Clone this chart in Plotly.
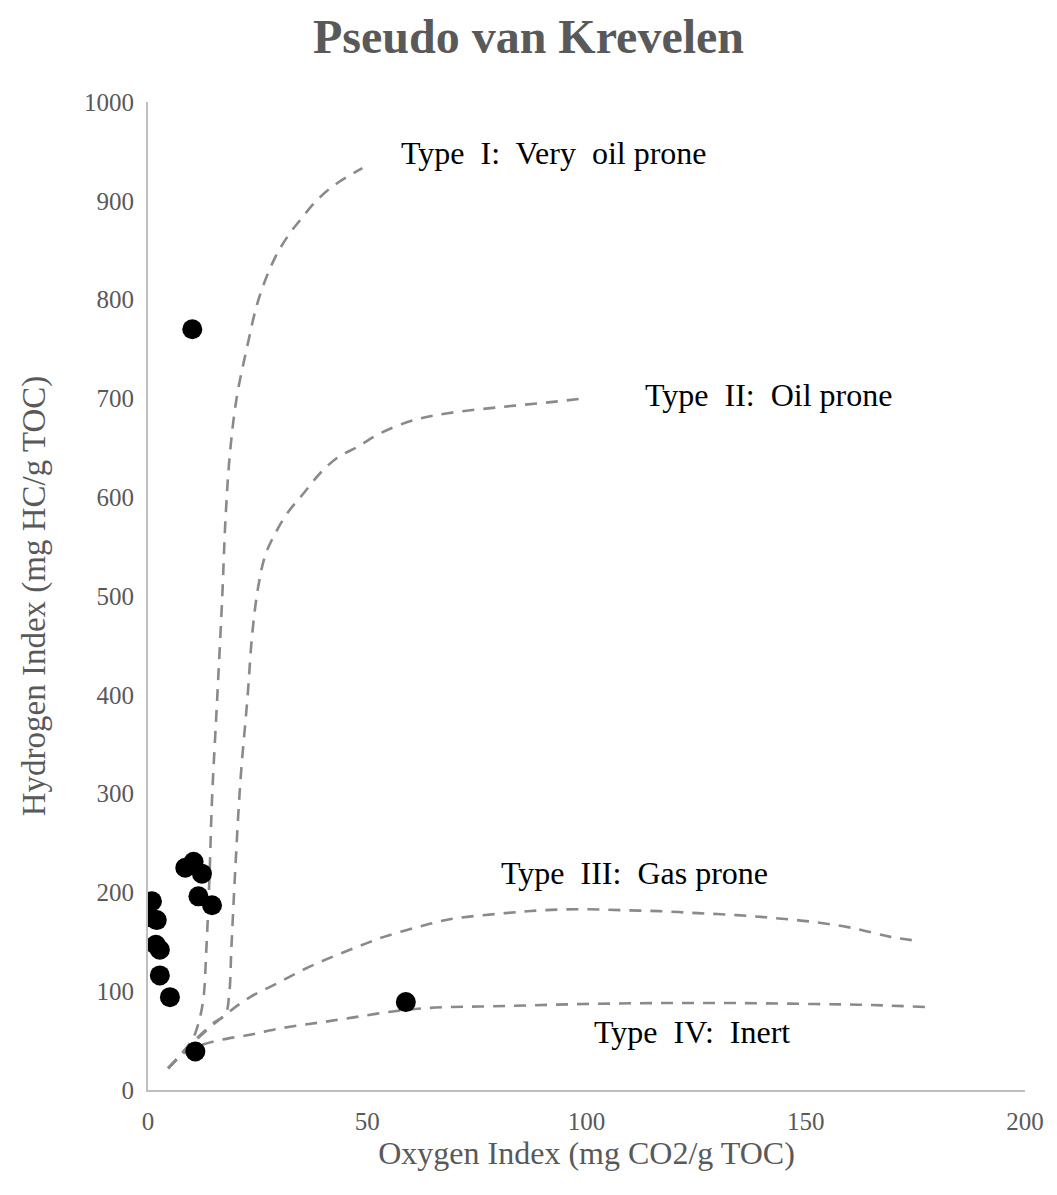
import plotly.graph_objects as go

# Sample measurements: oxygen index vs hydrogen index
oxygen_index = [10.1, 0.9, 0.5, 2.0, 1.8, 2.7, 2.7, 5.0, 10.4, 8.5, 12.3, 11.5, 14.6, 10.8, 58.8]
hydrogen_index = [770, 191, 175, 172, 147, 142, 116, 94, 231, 225, 219, 196, 187, 39, 89]

# Kerogen type reference curves
type1_x = [4.6, 7.3, 10.1, 11.4, 12.6, 13.3, 14.0, 14.6, 15.8, 16.9, 17.7, 18.7, 20.2, 22.6,
           25.2, 28.7, 31.7, 34.8, 38.6, 43.2, 48.9]
type1_y = [22, 35, 51, 66, 91, 142, 213, 294, 398, 496, 580, 645, 700, 752,
           800, 840, 863, 881, 901, 918, 933]

type2_x = [4.6, 10.8, 15.3, 17.6, 18.5, 19.0, 19.9, 21.1, 22.7, 23.8, 25.2, 26.8, 29.1, 31.8,
           35.5, 39.4, 43.2, 47.8, 53.1, 60.6, 68.4, 79.9, 91.3, 99.5]
type2_y = [22, 51, 69, 76, 96, 142, 223, 314, 398, 463, 511, 542, 564, 584,
           604, 625, 640, 651, 665, 678, 685, 691, 696, 700]

type3_x = [4.6, 10.3, 17.6, 23.3, 29.5, 35.5, 41.6, 47.8, 53.8, 61.6, 69.1, 81.5, 90.2, 99.1,
           107.8, 116.7, 125.4, 134.3, 143.0, 151.9, 160.6, 169.3, 175.5]
type3_y = [22, 48, 76, 94, 108, 122, 134, 145, 155, 165, 173, 179, 182, 183,
           182, 181, 179, 177, 174, 170, 164, 155, 151]

type4_x = [4.6, 8.5, 11.9, 15.8, 23.3, 30.9, 38.7, 46.2, 54.9, 63.8, 81.5, 99.1, 116.7, 134.3,
           151.9, 165.0, 177.3]
type4_y = [22, 38, 45, 50, 56, 63, 68, 73, 79, 83, 85, 87, 88, 88,
           87, 86, 84]

curve_labels = ["Type  I:  Very  oil prone", "Type  II:  Oil prone", "Type  III:  Gas prone", "Type  IV:  Inert"]
label_x = [92.5, 141.5, 111, 124]
label_y = [948, 703, 220, 59]

x_ticks = [0, 50, 100, 150, 200]
y_ticks = [0, 100, 200, 300, 400, 500, 600, 700, 800, 900, 1000]

SERIF = "Liberation Serif, Times New Roman, serif"
CURVE_STYLE = dict(color="#8a8a8a", width=2.6, dash="12px,9px")

fig = go.Figure()

for cx, cy in [(type1_x, type1_y), (type2_x, type2_y), (type3_x, type3_y), (type4_x, type4_y)]:
    fig.add_trace(go.Scatter(x=cx, y=cy, mode="lines", line=dict(shape="spline", **CURVE_STYLE),
                             hoverinfo="skip", showlegend=False))

fig.add_trace(go.Scatter(x=oxygen_index, y=hydrogen_index, mode="markers",
                         marker=dict(color="black", size=20), showlegend=False))

for text, lx, ly in zip(curve_labels, label_x, label_y):
    fig.add_annotation(x=lx, y=ly, text=text.replace("  ", "&nbsp; "), showarrow=False,
                       font=dict(family=SERIF, size=32, color="black"))

fig.update_layout(
    width=1057, height=1195,
    margin=dict(l=148, r=32, t=102, b=105),
    paper_bgcolor="white", plot_bgcolor="white",
    title=dict(text="<b>Pseudo van Krevelen</b>", x=0.5, xref="container", xanchor="center",
               y=0.97, yanchor="middle",
               font=dict(family=SERIF, size=48, color="#595959")),
    xaxis=dict(range=[0, 200], tickvals=x_ticks, showgrid=False, zeroline=False,
               showline=True, linecolor="#bfbfbf", linewidth=2,
               ticks="", ticklabelstandoff=8,
               tickfont=dict(family=SERIF, size=25, color="#595959"),
               title=dict(text="Oxygen Index (mg CO2/g TOC)", standoff=0,
                          font=dict(family=SERIF, size=32, color="#595959"))),
    yaxis=dict(range=[0, 1000], tickvals=y_ticks, showgrid=False, zeroline=False,
               showline=True, linecolor="#bfbfbf", linewidth=2,
               ticks="", ticklabelstandoff=7,
               tickfont=dict(family=SERIF, size=25, color="#595959"),
               title=dict(text="Hydrogen Index (mg HC/g TOC)", standoff=28,
                          font=dict(family=SERIF, size=33, color="#595959"))),
)

fig.write_html("out.html")
